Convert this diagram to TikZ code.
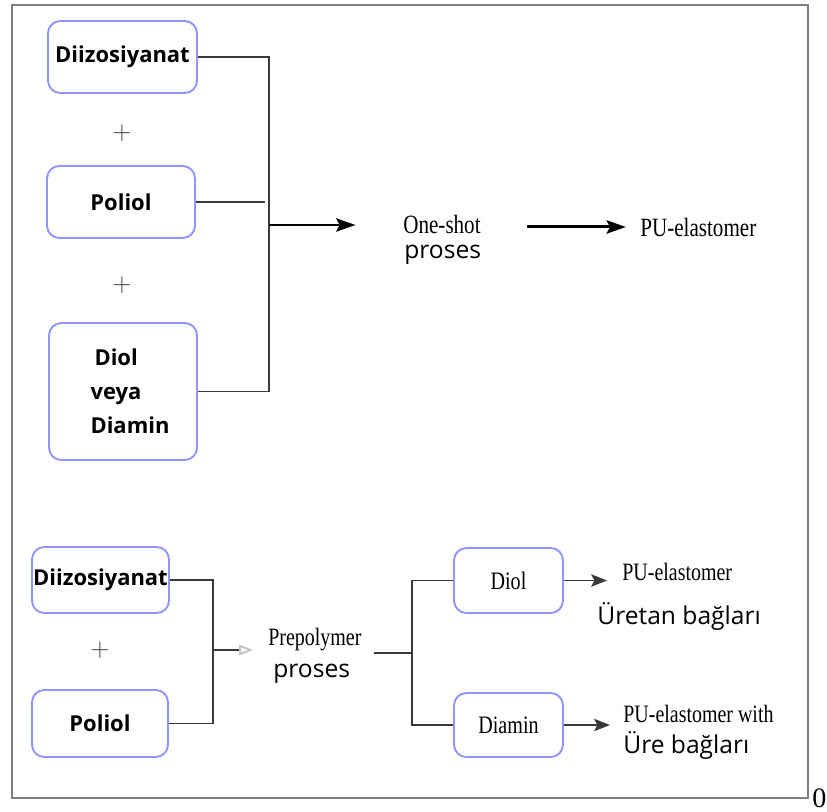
\documentclass[tikz,border=0pt]{standalone}
\usepackage{fontspec}
\setmainfont{Liberation Serif}
\setsansfont{Open Sans}
\newfontfamily\condserif[FakeStretch=0.8]{Liberation Serif}
\usetikzlibrary{arrows.meta, positioning, calc}
\definecolor{BoxBlue}{HTML}{9494FF}
\definecolor{LineGray}{HTML}{3A3A3A}
\definecolor{FrameGray}{HTML}{7F7F7F}
\definecolor{TipGray}{HTML}{C4C4C4}

\tikzset{
  chembox/.style={draw=BoxBlue, line width=1.1pt, rounded corners=7pt, inner sep=0pt,
    font=\sffamily\bfseries\fontsize{12.5}{19.3}\selectfont},
  serifbox/.style={chembox, font=\condserif\fontsize{14.3}{17}\selectfont},
  proclabel/.style={inner sep=0pt, anchor=base west, font=\condserif\fontsize{15}{18}\selectfont},
  smalllabel/.style={proclabel, font=\condserif\fontsize{14.2}{17}\selectfont},
  sanslabel/.style={inner sep=0pt, anchor=base west, font=\sffamily\fontsize{14}{17}\selectfont},
  plus/.style={inner sep=0pt, text=LineGray, font=\fontsize{15}{16}\selectfont},
  conn/.style={draw=LineGray, line width=1.1pt},
  bigarrow/.style={draw=black, line width=1.7pt, -{Stealth[length=11pt, width=7.5pt, inset=2pt]}},
  arrow/.style={draw=LineGray, line width=1.1pt, -{Stealth[length=9pt, width=7pt, inset=1.8pt]}},
  frame/.style={draw=FrameGray, line width=1.1pt}
}

\begin{document}
\begin{tikzpicture}[x=0.02cm, y=-0.02cm]
    \useasboundingbox (0,0) rectangle (827,811);
    \draw[frame] (12,5) rectangle (808,798);

    % One-shot route
    \node[chembox, minimum width=2.98cm, minimum height=1.44cm] (diizoA) at (122.5,57) {Diizosiyanat};
    \node[plus] (plusA) at (122,133) {$+$};
    \node[chembox, minimum width=2.96cm, minimum height=1.44cm] (poliolA) at (121,202) {Poliol};
    \node[plus] (plusB) at (122,285) {$+$};
    \node[chembox, minimum width=2.96cm, minimum height=2.74cm, align=left] (diolA) at (123,391.5)
        {\hspace*{0.36cm}Diol\\\hspace*{0.28cm}veya\\\hspace*{0.28cm}Diamin};

    \coordinate (busA) at (269,225);
    \draw[conn] (diizoA.east) -| (busA) |- (diolA.east);
    \draw[conn] (poliolA.east) -- ($(poliolA.east -| busA)+(-4,0)$);

    \node[proclabel] (oneshot) at (403,233) {One-shot};
    \node[sanslabel] (oneshotB) at (404,258) {proses};
    \node[proclabel] (puA) at (640,236) {PU-elastomer};
    \draw[bigarrow, shorten >=27pt] (busA) -- (busA -| oneshot.west);
    \draw[bigarrow, shorten <=26pt, shorten >=8pt] (oneshot.east |- puA.west) -- (puA.west);

    % Prepolymer route
    \node[chembox, minimum width=2.74cm, minimum height=1.32cm] (diizoB) at (100.5,580) {Diizosiyanat};
    \node[plus] (plusC) at (100,650) {$+$};
    \node[chembox, minimum width=2.72cm, minimum height=1.34cm] (poliolB) at (100,723.5) {Poliol};

    \coordinate (busB) at (213,650);
    \draw[conn] (diizoB.east) -| (busB) |- (poliolB.east);

    \node[smalllabel] (prepoly) at (268,645) {Prepolymer};
    \node[sanslabel] (prepolyB) at (273,677) {proses};
    \draw[conn, -{Triangle[open, length=8pt, width=6pt, color=TipGray]}, shorten >=8.5pt]
        (busB) -- (busB -| prepoly.west);

    \coordinate (busC) at (412,653);
    \draw[conn, shorten <=7pt] (busC -| prepoly.east) -- (busC);

    \node[serifbox, minimum width=2.18cm, minimum height=1.3cm] (diolB) at (508.5,580.5) {Diol};
    \node[serifbox, minimum width=2.18cm, minimum height=1.28cm] (diaminB) at (508.5,725) {Diamin};
    \draw[conn] (diolB.west) -| (busC) |- (diaminB.west);

    \node[smalllabel] (puB) at (622,580) {PU-elastomer};
    \node[sanslabel] (uretan) at (597,624) {Üretan bağları};
    \node[smalllabel] (puC) at (623,722) {PU-elastomer with};
    \node[sanslabel] (ure) at (623,753) {Üre bağları};
    \draw[arrow, shorten >=8.5pt] (diolB.east) -- (diolB.east -| puB.west);
    \draw[arrow, shorten >=7.4pt] (diaminB.east) -- (diaminB.east -| puC.west);

    \node[inner sep=0pt, anchor=base west, font=\fontsize{16}{18}\selectfont] (pagenum) at (812,807) {0};
\end{tikzpicture}
\end{document}
